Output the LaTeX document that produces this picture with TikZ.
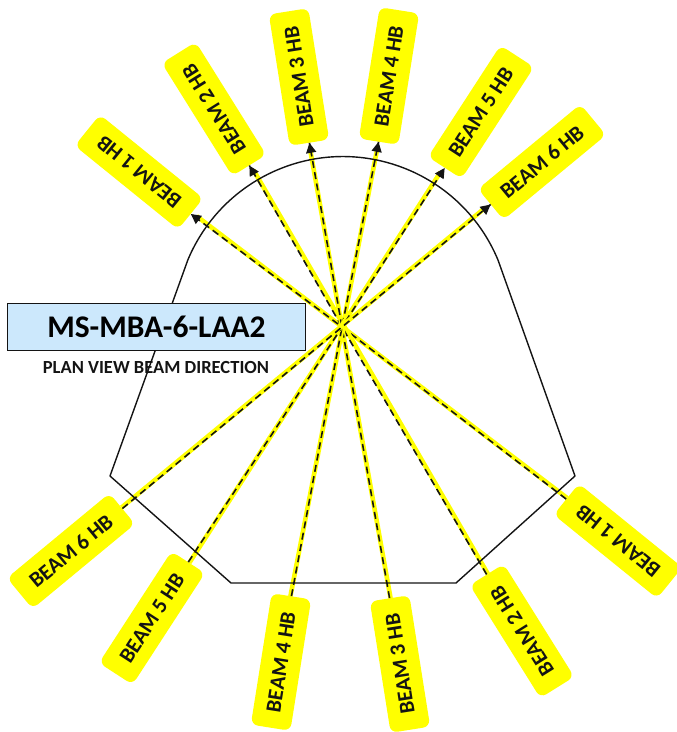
\documentclass[tikz,border=0pt]{standalone}
\usepackage{fontspec}
\setmainfont{Carlito}
\usetikzlibrary{arrows.meta,calc}
\definecolor{beamyellow}{HTML}{FFFF00}
\definecolor{titleblue}{HTML}{CCE8FC}
\definecolor{inkdark}{HTML}{141414}
\tikzset{
  beamlabel/.style={draw=none,fill=beamyellow,rounded corners=7pt,minimum width=133pt,minimum height=40pt,inner sep=0pt,text=inkdark,font=\fontsize{21.7}{21.7}\selectfont\bfseries},
  beamglow/.style={draw=beamyellow,line width=4.6pt,shorten >=6pt},
  beamdash/.style={draw=inkdark,line width=1.6pt,dash pattern=on 7pt off 4.5pt},
  beamtip/.style={-{Triangle[length=10pt,width=10pt]},draw=inkdark,line width=1.6pt},
  hull/.style={draw=inkdark,line width=1.4pt,line join=round},
}
% #1 lower label, #2 upper label, #3 and #4 offsets of the yellow band at each end
\newcommand{\beam}[4]{%
  \draw[beamglow] ($(#1.east)+(#3)$) -- ($(#2.west)+(#4)$);
  \draw[beamdash] (#1.east) -- (c) -- (#2.west);
  \draw[beamtip] ($(#2.west)!10pt!(c)$) -- (#2.west);
}
\begin{document}
\begin{tikzpicture}[x=1pt,y=-1pt]
\useasboundingbox (0,0) rectangle (677,732);
\coordinate (c) at (342,327);
% upper labels
\node[beamlabel,rotate=141] (t1) at (139,172) {BEAM 1 HB};
\node[beamlabel,rotate=122] (t2) at (214,109) {BEAM 2 HB};
\node[beamlabel,rotate=99] (t3) at (299,77) {BEAM 3 HB};
\node[beamlabel,rotate=81] (t4) at (389,76) {BEAM 4 HB};
\node[beamlabel,rotate=57] (t5) at (481,112) {BEAM 5 HB};
\node[beamlabel,rotate=39.6] (t6) at (542,162) {BEAM 6 HB};
% lower labels
\node[beamlabel,rotate=141] (b1) at (618,541) {BEAM 1 HB};
\node[beamlabel,rotate=122] (b2) at (522,631) {BEAM 2 HB};
\node[beamlabel,rotate=99] (b3) at (400,664) {BEAM 3 HB};
\node[beamlabel,rotate=81] (b4) at (281,662) {BEAM 4 HB};
\node[beamlabel,rotate=57] (b5) at (152,618) {BEAM 5 HB};
\node[beamlabel,rotate=39.6] (b6) at (71,551) {BEAM 6 HB};
% beams
\beam{b1}{t1}{1,-1}{1,-1.5}
\beam{b2}{t2}{1.2,-0.6}{1.2,-0.6}
\beam{b3}{t3}{1,0}{-0.5,0}
\beam{b4}{t4}{-1,0}{0,0}
\beam{b5}{t5}{1,0.8}{-1,-0.8}
\beam{b6}{t6}{-0.8,-1}{-0.5,-0.8}
% outline
\draw[hull] (110,476) -- (231,583) -- (456,583) -- (575,476) -- (498,260)
  arc[start angle=-22.6,end angle=-157.4,radius=168] -- cycle;
% title
\node[draw=inkdark,line width=1.4pt,fill=titleblue,minimum width=298pt,minimum height=47pt,inner sep=0pt,text=black,font=\fontsize{31.5}{31.5}\selectfont\bfseries] (title) at (156.5,327) {MS-MBA-6-LAA2};
\node[text=inkdark,inner sep=0pt,font=\fontsize{18.5}{18.5}\selectfont\bfseries] (sub) at (156,367) {PLAN VIEW BEAM DIRECTION};
\end{tikzpicture}
\end{document}
